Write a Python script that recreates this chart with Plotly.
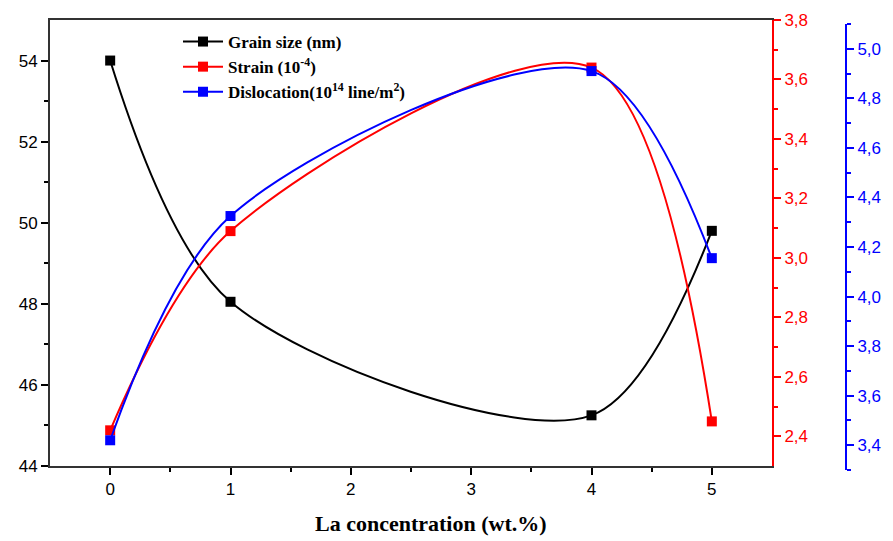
import plotly.graph_objects as go

# La content (wt.%) and measured properties
la_conc = [0, 1, 4, 5]
grain_size = [54.0, 48.05, 45.25, 49.8]          # nm
strain = [2.42, 3.09, 3.64, 2.45]                # 10^-4
dislocation = [3.42, 4.325, 4.91, 4.155]         # 10^14 line/m^2

BLACK = "#000000"
RED = "#FF0000"
BLUE = "#0000FF"
tick_font = dict(family="Liberation Sans, Arial", size=17)

fig = go.Figure()

def add_series(y, name, color, yaxis):
    fig.add_trace(go.Scatter(
        x=la_conc, y=y, name=name, yaxis=yaxis,
        mode="lines+markers",
        line=dict(color=color, width=2, shape="spline", smoothing=0.9),
        marker=dict(symbol="square", size=10, color=color),
    ))

add_series(grain_size, "<b>Grain size (nm)</b>", BLACK, "y")
add_series(strain, "<b>Strain (10<sup>-4</sup>)</b>", RED, "y2")
add_series(dislocation, "<b>Dislocation(10<sup>14</sup> line/m<sup>2</sup>)</b>", BLUE, "y3")

x_right = 722 / 800

fig.update_layout(
    width=893, height=541,
    margin=dict(l=50, r=43, t=20, b=71),
    paper_bgcolor="white", plot_bgcolor="rgba(0,0,0,0)",
    separators=",.",
    showlegend=True,
    legend=dict(
        x=(178 - 50) / 800, y=1 - (24 - 20) / 450,
        xanchor="left", yanchor="top",
        bgcolor="rgba(0,0,0,0)",
        font=dict(family="Liberation Serif, Times New Roman", size=17, color=BLACK),
        tracegroupgap=0, itemwidth=40,
    ),
    xaxis=dict(
        domain=[0, x_right],
        range=[-0.5, 5.5],
        tickmode="array", tickvals=[0, 1, 2, 3, 4, 5],
        ticks="outside", ticklen=7, tickwidth=1.5, tickcolor=BLACK,
        minor=dict(tickmode="array", tickvals=[0.5, 1.5, 2.5, 3.5, 4.5],
                   ticks="outside", ticklen=4, tickwidth=1.5, tickcolor=BLACK),
        showline=True, linecolor="#333333", linewidth=2, mirror=True,
        showgrid=False, zeroline=False,
        tickfont=dict(color=BLACK, **tick_font),
        anchor="y",
    ),
    yaxis=dict(
        domain=[4 / 450, 1],
        range=[44, 55],
        tickmode="array", tickvals=[44, 46, 48, 50, 52, 54],
        ticks="outside", ticklen=7, tickwidth=1.5, tickcolor=BLACK,
        minor=dict(tickmode="array", tickvals=[45, 47, 49, 51, 53],
                   ticks="outside", ticklen=4, tickwidth=1.5, tickcolor=BLACK),
        showline=True, linecolor="#333333", linewidth=2,
        showgrid=False, zeroline=False,
        tickfont=dict(color=BLACK, **tick_font),
        anchor="x",
    ),
    yaxis2=dict(
        overlaying="y", side="right", anchor="x",
        range=[2.3, 3.8],
        tickmode="array", tickvals=[2.4, 2.6, 2.8, 3.0, 3.2, 3.4, 3.6, 3.8],
        tickformat=".1f",
        ticks="outside", ticklen=7, tickwidth=1.5, tickcolor=RED,
        minor=dict(tickmode="array", tickvals=[2.5, 2.7, 2.9, 3.1, 3.3, 3.5, 3.7],
                   ticks="outside", ticklen=4, tickwidth=1.5, tickcolor=RED),
        showline=True, linecolor=RED, linewidth=2,
        showgrid=False, zeroline=False,
        tickfont=dict(color=RED, **tick_font),
    ),
    yaxis3=dict(
        domain=[0, 1 - 4 / 450],
        anchor="free", position=(846 - 50) / 800, side="right",
        range=[3.3, 5.1],
        tickmode="array", tickvals=[3.4, 3.6, 3.8, 4.0, 4.2, 4.4, 4.6, 4.8, 5.0],
        tickformat=".1f",
        ticks="outside", ticklen=7, tickwidth=1.5, tickcolor=BLUE,
        minor=dict(tickmode="array", tickvals=[3.3, 3.5, 3.7, 3.9, 4.1, 4.3, 4.5, 4.7, 4.9, 5.1],
                   ticks="outside", ticklen=4, tickwidth=1.5, tickcolor=BLUE),
        showline=True, linecolor=BLUE, linewidth=2,
        showgrid=False, zeroline=False,
        tickfont=dict(color=BLUE, **tick_font),
    ),
)

fig.add_annotation(
    text="<b>La concentration (wt.%)</b>",
    xref="paper", yref="paper",
    x=(431 - 50) / 800, y=-(523 - 470) / 450,
    xanchor="center", yanchor="middle", showarrow=False,
    font=dict(family="Liberation Serif, Times New Roman", size=22, color=BLACK),
)

fig.write_html("out.html")
